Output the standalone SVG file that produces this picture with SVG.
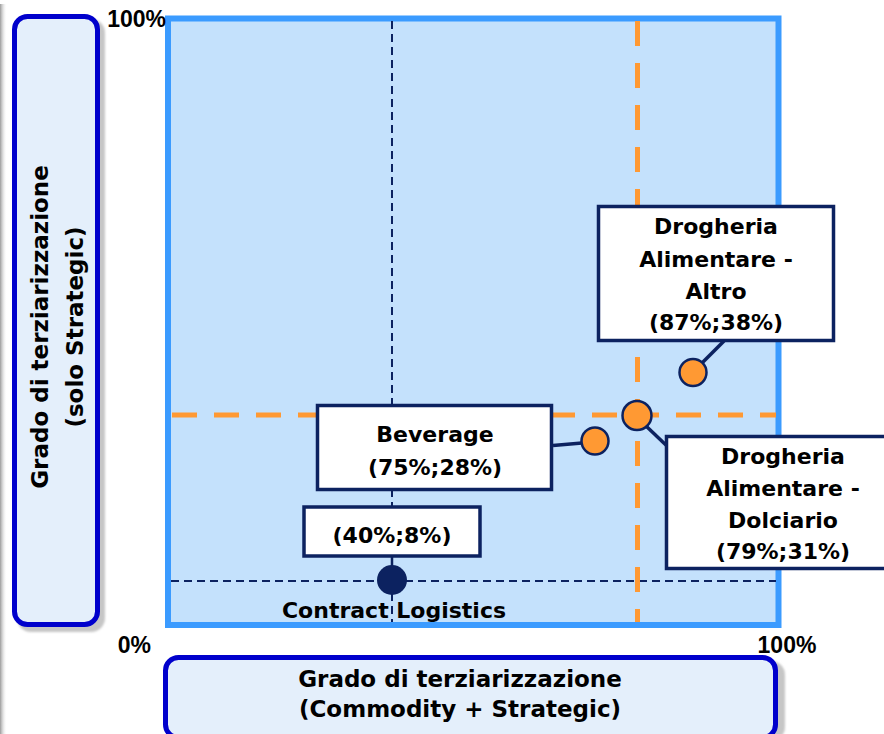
<svg xmlns="http://www.w3.org/2000/svg" width="884" height="734" viewBox="0 0 884 734">
  <defs>
    <linearGradient id="edgeShade" x1="0" y1="0" x2="1" y2="0">
      <stop offset="0" stop-color="#9a9a9a"/>
      <stop offset="1" stop-color="#ffffff" stop-opacity="0"/>
    </linearGradient>
    <filter id="soft" x="-5%" y="-5%" width="110%" height="110%">
      <feGaussianBlur stdDeviation="1.2"/>
    </filter>
    <style>
      .axisbox { fill: #e4effb; stroke: #0000cc; stroke-width: 5; }
      .shadow { fill: #c6c6c6; filter: url(#soft); }
      .axistitle { font-family: "DejaVu Sans", Verdana, sans-serif; font-weight: bold; font-size: 23px; fill: #000; text-anchor: middle; }
      .tick { font-family: "Liberation Sans", Arial, sans-serif; font-weight: bold; font-size: 23px; fill: #000; }
      .label { fill: #ffffff; stroke: #0c2260; stroke-width: 3.5; }
      .ltext { font-family: "DejaVu Sans", Verdana, sans-serif; font-weight: bold; font-size: 22px; fill: #000; text-anchor: middle; }
      .guide-dark { stroke: #0c2260; stroke-width: 2; stroke-dasharray: 8 5; fill: none; }
      .guide-orange { stroke: #ff9933; stroke-width: 5; stroke-dasharray: 25 17; fill: none; }
      .leader { stroke: #0c2260; stroke-width: 3.5; fill: none; }
      .pt { fill: #ff9933; stroke: #0c2260; stroke-width: 2.5; }
    </style>
  </defs>

  <!-- page edge shading -->
  <rect x="0" y="4" width="7" height="730" fill="url(#edgeShade)"/>

  <!-- plot area -->
  <g id="plot">
    <rect x="168" y="18.5" width="610.5" height="606.5" fill="#c4e1fc" stroke="#3b9bff" stroke-width="6"/>
  </g>

  <!-- reference lines -->
  <g id="guides">
    <line class="guide-dark" x1="392" y1="21" x2="392" y2="622"/>
    <line class="guide-dark" x1="171" y1="581" x2="776" y2="581"/>
    <line class="guide-orange" x1="637.5" y1="21" x2="637.5" y2="622"/>
    <line class="guide-orange" x1="172" y1="415" x2="776" y2="415"/>
  </g>

  <!-- vertical axis title -->
  <g id="y-axis-title">
    <rect class="shadow" x="17" y="19" width="88" height="613" rx="14"/>
    <rect class="axisbox" x="14.5" y="16.5" width="83" height="608" rx="13"/>
    <text class="axistitle" transform="translate(48 327) rotate(-90)">Grado di terziarizzazione</text>
    <text class="axistitle" transform="translate(83 327) rotate(-90)">(solo Strategic)</text>
  </g>

  <!-- horizontal axis title -->
  <g id="x-axis-title">
    <rect class="shadow" x="168" y="661" width="617" height="80" rx="14"/>
    <rect class="axisbox" x="165.5" y="657.5" width="610" height="80" rx="13"/>
    <text class="axistitle" x="460" y="687">Grado di terziarizzazione</text>
    <text class="axistitle" x="460" y="717">(Commodity + Strategic)</text>
  </g>

  <!-- axis ticks -->
  <g id="ticks">
    <text class="tick" x="166" y="27" text-anchor="end">100%</text>
    <text class="tick" x="151" y="653" text-anchor="end">0%</text>
    <text class="tick" x="787" y="653" text-anchor="middle">100%</text>
  </g>

  <!-- leader lines -->
  <g id="connectors">
    <line class="leader" x1="724" y1="341" x2="700" y2="365"/>
    <line class="leader" x1="553" y1="445.5" x2="582" y2="443"/>
    <line class="leader" x1="646" y1="426" x2="667" y2="446"/>
    <line x1="392" y1="556" x2="392" y2="568" stroke="#0c2260" stroke-width="2.5"/>
  </g>

  <!-- data points -->
  <g id="point-altro">
    <circle class="pt" cx="693" cy="372.5" r="13.5"/>
  </g>
  <g id="point-beverage">
    <circle class="pt" cx="595" cy="441" r="13.5"/>
  </g>
  <g id="point-dolciario">
    <circle class="pt" cx="637" cy="415.5" r="14.5"/>
  </g>
  <g id="point-contract-logistics">
    <circle cx="392" cy="580" r="15" fill="#0c2260"/>
    <text class="ltext" x="394" y="618">Contract Logistics</text>
  </g>

  <!-- callouts -->
  <g id="label-altro">
    <rect class="label" x="598.5" y="206.5" width="235" height="134"/>
    <text class="ltext" x="716" y="234">Drogheria</text>
    <text class="ltext" x="716" y="267">Alimentare -</text>
    <text class="ltext" x="716" y="299">Altro</text>
    <text class="ltext" x="716" y="330">(87%;38%)</text>
  </g>
  <g id="label-beverage">
    <rect class="label" x="317.5" y="405.5" width="234" height="84"/>
    <text class="ltext" x="435" y="442">Beverage</text>
    <text class="ltext" x="435" y="475">(75%;28%)</text>
  </g>
  <g id="label-dolciario">
    <rect class="label" x="666.5" y="436.5" width="236" height="132"/>
    <text class="ltext" x="783" y="464">Drogheria</text>
    <text class="ltext" x="783" y="496">Alimentare -</text>
    <text class="ltext" x="783" y="528">Dolciario</text>
    <text class="ltext" x="783" y="559">(79%;31%)</text>
  </g>
  <g id="label-contract-logistics">
    <rect class="label" x="304" y="507" width="176" height="49" stroke-width="2.5"/>
    <text class="ltext" x="392" y="543">(40%;8%)</text>
  </g>
</svg>
